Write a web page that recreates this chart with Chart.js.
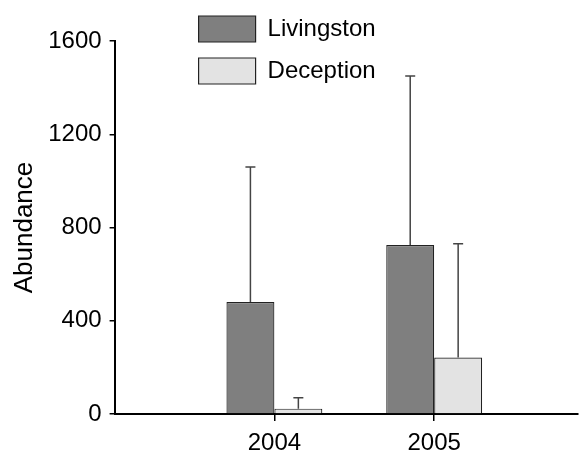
<!DOCTYPE html>
<html>
<head>
<meta charset="utf-8">
<script src="https://cdn.jsdelivr.net/npm/chart.js@4.4.1/dist/chart.umd.min.js"></script>
<style>
  html, body { margin: 0; padding: 0; background: #fff; }
</style>
</head>
<body>
<canvas id="chart" width="582" height="455"></canvas>
<script>
const years = ["2004", "2005"];
const livingston = [480, 725];
const deception = [23, 242];
const livingstonSd = [580, 725];
const deceptionSd = [47, 488];
const yTicks = [0, 400, 800, 1200, 1600];

const FONT = "'Liberation Sans', Arial, sans-serif";

// error bars: upward line + cap from each bar top
const errorBars = {
  id: "errorBars",
  afterDatasetsDraw(chart) {
    const ctx = chart.ctx;
    const yScale = chart.scales.y;
    [livingstonSd, deceptionSd].forEach((sd, d) => {
      const meta = chart.getDatasetMeta(d);
      meta.data.forEach((bar, i) => {
        const top = yScale.getPixelForValue(chart.data.datasets[d].data[i].y + sd[i]);
        ctx.save();
        ctx.strokeStyle = "#444";
        ctx.lineWidth = 1.5;
        ctx.beginPath();
        ctx.moveTo(bar.x, bar.y);
        ctx.lineTo(bar.x, top);
        ctx.moveTo(bar.x - 5, top);
        ctx.lineTo(bar.x + 5, top);
        ctx.stroke();
        ctx.restore();
      });
    });
  }
};

// move the stacked legend up above the plot
const legendShift = {
  id: "legendShift",
  afterLayout(chart) {
    const lg = chart.legend;
    const left = chart.chartArea.left + 68;
    const top = 0;
    lg.left = left;
    lg.top = top;
    lg.right = left + lg.width;
    lg.bottom = top + lg.height;
  }
};

const toPoints = arr => arr.map((v, i) => ({ x: i + 1, y: v }));

new Chart(document.getElementById("chart"), {
  type: "bar",
  data: {
    datasets: [
      {
        label: "Livingston",
        data: toPoints(livingston),
        backgroundColor: "#7f7f7f",
        borderColor: "#222",
        borderWidth: 1.2,
        categoryPercentage: 0.6,
        barPercentage: 1
      },
      {
        label: "Deception",
        data: toPoints(deception),
        backgroundColor: "#e3e3e3",
        borderColor: "#222",
        borderWidth: 1.2,
        categoryPercentage: 0.6,
        barPercentage: 1
      }
    ]
  },
  options: {
    responsive: false,
    animation: false,
    layout: { padding: { top: 41, right: 4, left: 9, bottom: -10 } },
    plugins: {
      tooltip: { enabled: false },
      legend: {
        position: "chartArea",
        align: "start",
        labels: {
          boxWidth: 57,
          boxHeight: 26,
          padding: 16,
          color: "#000",
          font: { family: FONT, size: 24 }
        }
      }
    },
    scales: {
      x: {
        type: "linear",
        min: 0,
        max: 2.9,
        offset: false,
        afterBuildTicks: axis => { axis.ticks = years.map((y, i) => ({ value: i + 1 })); },
        ticks: {
          callback: (v, i) => years[i],
          color: "#000",
          font: { family: FONT, size: 24, lineHeight: 1 },
          padding: 10,
          maxRotation: 0,
          autoSkip: false
        },
        grid: {
          offset: false,
          drawOnChartArea: false,
          drawTicks: true,
          tickLength: 7,
          color: "#000",
          lineWidth: 1.5,
          tickColor: "#000",
          tickWidth: 1.5
        },
        border: { color: "#000", width: 2 }
      },
      y: {
        min: 0,
        max: 1600,
        afterBuildTicks: axis => { axis.ticks = yTicks.map(v => ({ value: v })); },
        ticks: {
          callback: v => String(v),
          color: "#000",
          font: { family: FONT, size: 24 },
          padding: 8
        },
        grid: {
          drawOnChartArea: false,
          drawTicks: true,
          tickLength: 5,
          color: "#000",
          lineWidth: 1.5,
          tickColor: "#000",
          tickWidth: 1.5
        },
        border: { color: "#000", width: 2 },
        title: {
          display: true,
          text: "Abundance",
          color: "#000",
          font: { family: FONT, size: 26 },
          padding: { top: 0, bottom: 0 }
        }
      }
    }
  },
  plugins: [errorBars, legendShift]
});
</script>
</body>
</html>
